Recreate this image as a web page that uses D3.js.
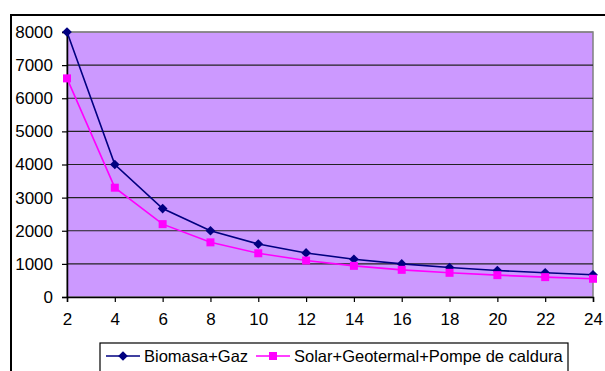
<!DOCTYPE html>
<html>
<head>
<meta charset="utf-8">
<script src="https://cdn.jsdelivr.net/npm/d3@7"></script>
<style>
  html, body { margin: 0; padding: 0; background: #fff; }
  svg { display: block; }
  text { font-family: "Liberation Sans", Arial, sans-serif; fill: #000; }
</style>
</head>
<body>
<svg id="chart" width="605" height="371"></svg>
<script>
// Categories along the horizontal axis
const categories = [2, 4, 6, 8, 10, 12, 14, 16, 18, 20, 22, 24];
// Series values
const biomasaGaz = [8000, 4000, 2670, 2000, 1600, 1330, 1140, 1000, 890, 800, 730, 670];
const solarGeo = [6600, 3300, 2200, 1650, 1320, 1100, 940, 820, 730, 660, 600, 550];
// Value axis ticks
const yTicks = [0, 1000, 2000, 3000, 4000, 5000, 6000, 7000, 8000];
const seriesNames = ["Biomasa+Gaz", "Solar+Geotermal+Pompe de caldura"];

const svg = d3.select("#chart");
const W = 605, H = 371;
const plot = { left: 67, top: 32, right: 593, bottom: 297 };
const tickFont = 17;

// Outer chart frame
svg.append("rect")
  .attr("x", 11).attr("y", 15)
  .attr("width", W + 20).attr("height", H + 20)
  .attr("fill", "#fff").attr("stroke", "#000").attr("stroke-width", 2);

const x = d3.scalePoint().domain(categories).range([plot.left, plot.right]);
const y = d3.scaleLinear().domain([0, 8000]).range([plot.bottom, plot.top]);

// Plot area background
svg.append("rect")
  .attr("x", plot.left).attr("y", plot.top)
  .attr("width", plot.right - plot.left).attr("height", plot.bottom - plot.top)
  .attr("fill", "#CC99FF").attr("stroke", "#808080").attr("stroke-width", 1.5);

// Horizontal gridlines
svg.append("g").selectAll("line")
  .data(yTicks.filter(d => d > 0))
  .join("line")
  .attr("x1", plot.left).attr("x2", plot.right)
  .attr("y1", d => y(d)).attr("y2", d => y(d))
  .attr("stroke", d => d === 8000 ? "#808080" : "#222")
  .attr("stroke-width", 1.2);

// Value axis
const yAxis = svg.append("g")
  .attr("transform", `translate(${plot.left},0)`)
  .call(d3.axisLeft(y).tickValues(yTicks).tickSize(5).tickPadding(9).tickFormat(d3.format("d")));
yAxis.select(".domain").attr("stroke", "#000").attr("stroke-width", 1.5);
yAxis.selectAll(".tick line").attr("stroke", "#000").attr("stroke-width", 1.2);
yAxis.selectAll("text").attr("font-size", tickFont).attr("font-family", "Liberation Sans, Arial, sans-serif").attr("fill", "#000");

// Category axis
const xAxis = svg.append("g")
  .attr("transform", `translate(0,${plot.bottom})`)
  .call(d3.axisBottom(x).tickSize(5).tickPadding(11));
xAxis.select(".domain").attr("stroke", "#000").attr("stroke-width", 1.5);
xAxis.selectAll(".tick line").attr("stroke", "#000").attr("stroke-width", 1.2);
xAxis.selectAll("text").attr("font-size", tickFont).attr("font-family", "Liberation Sans, Arial, sans-serif").attr("fill", "#000");

const line = d3.line().x((d, i) => x(categories[i])).y(d => y(d));

const diamond = d3.symbol().type(d3.symbolDiamond2).size(60);
const square = d3.symbol().type(d3.symbolSquare).size(64);

function drawSeries(values, color, sym) {
  svg.append("path")
    .datum(values)
    .attr("d", line)
    .attr("fill", "none").attr("stroke", color).attr("stroke-width", 1.6);
  svg.append("g").selectAll("path")
    .data(values)
    .join("path")
    .attr("d", sym)
    .attr("transform", (d, i) => `translate(${x(categories[i])},${y(d)})`)
    .attr("fill", color);
}
drawSeries(biomasaGaz, "#000080", diamond);
drawSeries(solarGeo, "#FF00FF", square);

// Legend
const lg = svg.append("g");
lg.append("rect")
  .attr("x", 100).attr("y", 343)
  .attr("width", 468).attr("height", 40)
  .attr("fill", "#fff").attr("stroke", "#000").attr("stroke-width", 1.2);

const legendItems = [
  { name: seriesNames[0], color: "#000080", sym: diamond, x0: 106 },
  { name: seriesNames[1], color: "#FF00FF", sym: square, x0: 256 }
];
const ly = 356;
legendItems.forEach(it => {
  lg.append("line")
    .attr("x1", it.x0).attr("x2", it.x0 + 34)
    .attr("y1", ly).attr("y2", ly)
    .attr("stroke", it.color).attr("stroke-width", 1.6);
  lg.append("path")
    .attr("d", it.sym)
    .attr("transform", `translate(${it.x0 + 17},${ly})`)
    .attr("fill", it.color);
  lg.append("text")
    .attr("x", it.x0 + 38).attr("y", ly)
    .attr("dy", "0.35em")
    .attr("font-size", 16.5)
    .text(it.name);
});
</script>
</body>
</html>
